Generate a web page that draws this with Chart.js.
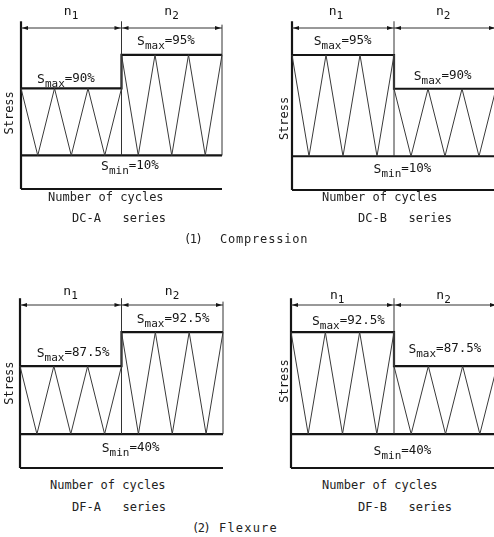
<!DOCTYPE html>
<html>
<head>
<meta charset="utf-8">
<script src="https://cdn.jsdelivr.net/npm/chart.js@4.4.0/dist/chart.umd.min.js"></script>
<style>
  html, body { margin: 0; padding: 0; background: #fff; width: 494px; height: 537px; overflow: hidden; position: relative; }
  canvas { position: absolute; }
  .cap { position: absolute; font-family: "DejaVu Sans Mono", monospace; font-size: 12px; line-height: 12px; color: #222; white-space: pre; }
  .num { letter-spacing: -1.5px; }
</style>
</head>
<body>
<canvas id="dcA" width="247" height="200" style="left:0;top:0"></canvas>
<canvas id="dcB" width="260" height="200" style="left:247px;top:0"></canvas>
<canvas id="dfA" width="247" height="205" style="left:0;top:270px"></canvas>
<canvas id="dfB" width="260" height="205" style="left:247px;top:270px"></canvas>

<div class="cap" style="left:48px;top:191px">Number of cycles</div>
<div class="cap" style="left:322px;top:191px">Number of cycles</div>
<div class="cap" id="capDCA" style="left:72px;top:212px"></div>
<div class="cap" id="capDCB" style="left:358px;top:212px"></div>
<div class="cap num" style="left:184px;top:233px">(1)</div>
<div class="cap" style="left:220px;top:233px;letter-spacing:0.8px">Compression</div>

<div class="cap" style="left:50px;top:479px">Number of cycles</div>
<div class="cap" style="left:322px;top:479px">Number of cycles</div>
<div class="cap" id="capDFA" style="left:72px;top:501px"></div>
<div class="cap" id="capDFB" style="left:358px;top:501px"></div>
<div class="cap num" style="left:192px;top:522px">(2)</div>
<div class="cap" style="left:219px;top:522px;letter-spacing:1.2px">Flexure</div>

<script>
// ======================================================
// DATA - schematic loading histories
// ======================================================
// x = half cycles, n1 block 0..6, n2 block 6..12
const halfCycles = [0, 1, 2, 3, 4, 5, 6, 6, 7, 8, 9, 10, 11, 12];
// drawn level: 0 = Smin, 2 = lower Smax, 3 = higher Smax
const waveDCA = [2, 0, 2, 0, 2, 0, 2, 3, 0, 3, 0, 3, 0, 3];
const waveDCB = [3, 0, 3, 0, 3, 0, 3, 2, 0, 2, 0, 2, 0, 2];
const waveDFA = [2, 0, 2, 0, 2, 0, 2, 3, 0, 3, 0, 3, 0, 3];
const waveDFB = [3, 0, 3, 0, 3, 0, 3, 2, 0, 2, 0, 2, 0, 2];
const blockEdges = [0, 6, 12];
const blockNames = ['1', '2'];
const smaxDCA = ['90%', '95%'];
const smaxDCB = ['95%', '90%'];
const smaxDFA = ['87.5%', '92.5%'];
const smaxDFB = ['92.5%', '87.5%'];
const sminLabels = ['10%', '10%', '40%', '40%'];
const seriesNames = ['DC-A', 'DC-B', 'DF-A', 'DF-B'];

const FONT = '"DejaVu Sans Mono", monospace';
const INK = '#151515';
const axisBottom = -1, axisTop = 4.0, dimY = 3.8;

// ======================================================
// PANELS (layout only)
// ======================================================
const panels = [
  { id: 'dcA', wave: waveDCA, smax: smaxDCA, smin: sminLabels[0], name: seriesNames[0], cap: 'capDCA',
    pad: { left: 21, right: 25, top: 28, bottom: 11 },
    nPos: [[3.0, 4.19], [9.0, 4.19]], smaxPos: [[0.96, 2.16], [6.93, 3.3]], sminPos: [4.78, -0.43], stressPos: [-0.66, 1.27] },
  { id: 'dcB', wave: waveDCB, smax: smaxDCB, smin: sminLabels[1], name: seriesNames[1], cap: 'capDCB',
    pad: { left: 45, right: 11, top: 28, bottom: 10 },
    nPos: [[2.6, 4.19], [8.9, 4.19]], smaxPos: [[1.28, 3.31], [7.16, 2.25]], sminPos: [4.8, -0.49], stressPos: [-0.41, 1.12] },
  { id: 'dfA', wave: waveDFA, smax: smaxDFA, smin: sminLabels[2], name: seriesNames[2], cap: 'capDFA',
    pad: { left: 20, right: 24, top: 35, bottom: 7 },
    nPos: [[3.0, 4.09], [9.0, 4.09]], smaxPos: [[0.99, 2.26], [6.9, 3.26]], sminPos: [4.83, -0.53], stressPos: [-0.59, 1.5] },
  { id: 'dfB', wave: waveDFB, smax: smaxDFB, smin: sminLabels[3], name: seriesNames[3], cap: 'capDFB',
    pad: { left: 44, right: 10, top: 35, bottom: 7 },
    nPos: [[2.7, 3.99], [8.9, 3.99]], smaxPos: [[1.22, 3.2], [6.84, 2.38]], sminPos: [4.81, -0.62], stressPos: [-0.35, 1.56] }
];

const seg = (x0, y0, x1, y1) => [{ x: x0, y: y0 }, { x: x1, y: y1 }];
const lineSet = (data, width, color) => ({
  data, showLine: true, borderColor: color, borderWidth: width,
  pointRadius: 0, tension: 0, clip: false, fill: false
});

// S + subscript + tail, e.g. S_max=95%
const subText = (ctx, px, py, main, sub, tail) => {
  ctx.font = '13px ' + FONT;
  ctx.fillText(main, px, py);
  let dx = ctx.measureText(main).width;
  ctx.font = '11px ' + FONT;
  ctx.fillText(sub, px + dx, py + 4);
  dx += ctx.measureText(sub).width;
  if (tail) {
    ctx.font = '12.5px ' + FONT;
    ctx.fillText(tail, px + dx, py - 1);
  }
};

const arrow = (ctx, tipX, y, dir) => {
  ctx.beginPath();
  ctx.moveTo(tipX, y);
  ctx.lineTo(tipX - dir * 6, y - 2);
  ctx.lineTo(tipX - dir * 6, y + 2);
  ctx.closePath();
  ctx.fill();
};

const labelPlugin = (p) => ({
  id: 'panelLabels',
  afterDatasetsDraw(chart) {
    const { ctx, scales: { x, y } } = chart;
    ctx.save();
    ctx.fillStyle = INK;
    ctx.textBaseline = 'alphabetic';

    // dimension arrows
    const dy = y.getPixelForValue(dimY);
    for (let i = 0; i < blockEdges.length - 1; i++) {
      arrow(ctx, x.getPixelForValue(blockEdges[i]) + 1, dy, -1);
      arrow(ctx, x.getPixelForValue(blockEdges[i + 1]) - 1, dy, 1);
    }

    // n1, n2
    p.nPos.forEach(([vx, vy], i) => {
      ctx.font = '13px ' + FONT;
      const w = ctx.measureText('n').width + 7;
      subText(ctx, x.getPixelForValue(vx) - w / 2, y.getPixelForValue(vy), 'n', blockNames[i], '');
    });

    // Smax labels
    p.smaxPos.forEach(([vx, vy], i) => {
      subText(ctx, x.getPixelForValue(vx), y.getPixelForValue(vy), 'S', 'max', '=' + p.smax[i]);
    });

    // Smin label
    subText(ctx, x.getPixelForValue(p.sminPos[0]), y.getPixelForValue(p.sminPos[1]), 'S', 'min', '=' + p.smin);

    // Stress
    ctx.save();
    ctx.translate(x.getPixelForValue(p.stressPos[0]), y.getPixelForValue(p.stressPos[1]));
    ctx.rotate(-Math.PI / 2);
    ctx.font = '12px ' + FONT;
    ctx.textAlign = 'center';
    ctx.textBaseline = 'middle';
    ctx.fillText('Stress', 0, 0);
    ctx.restore();

    ctx.restore();
  }
});

const createPanel = (p) => {
  const wave = halfCycles.map((hx, i) => ({ x: hx, y: p.wave[i] }));
  const last = halfCycles.length - 1;
  const envelope = [
    { x: blockEdges[0], y: p.wave[0] },
    { x: blockEdges[1], y: p.wave[6] },
    { x: blockEdges[1], y: p.wave[7] },
    { x: blockEdges[2], y: p.wave[last] }
  ];
  const x0 = blockEdges[0], x1 = blockEdges[1], x2 = blockEdges[2];

  return new Chart(document.getElementById(p.id), {
    type: 'scatter',
    data: {
      datasets: [
        lineSet(wave, 1, '#3a3a3a'),
        lineSet(seg(x1, 0, x1, axisTop), 1, '#333'),
        lineSet(seg(x2, 0, x2, 3.9), 1, '#333'),
        lineSet(seg(x0, dimY, x2, dimY), 1, '#333'),
        lineSet(envelope, 2.2, INK),
        lineSet(seg(x0, 0, x2, 0), 2.2, INK),
        lineSet(seg(x0, axisBottom, x0, axisTop), 2.2, INK),
        lineSet(seg(x0, axisBottom, x2, axisBottom), 2.2, INK)
      ]
    },
    options: {
      responsive: false,
      animation: false,
      layout: { padding: p.pad },
      plugins: { legend: { display: false }, tooltip: { enabled: false } },
      scales: {
        x: { type: 'linear', min: 0, max: 12, display: false },
        y: { type: 'linear', min: axisBottom, max: dimY, display: false }
      }
    },
    plugins: [labelPlugin(p)]
  });
};

window.onload = () => {
  panels.forEach(p => {
    document.getElementById(p.cap).textContent = `${p.name}   series`;
    createPanel(p);
  });
};
</script>
</body>
</html>
